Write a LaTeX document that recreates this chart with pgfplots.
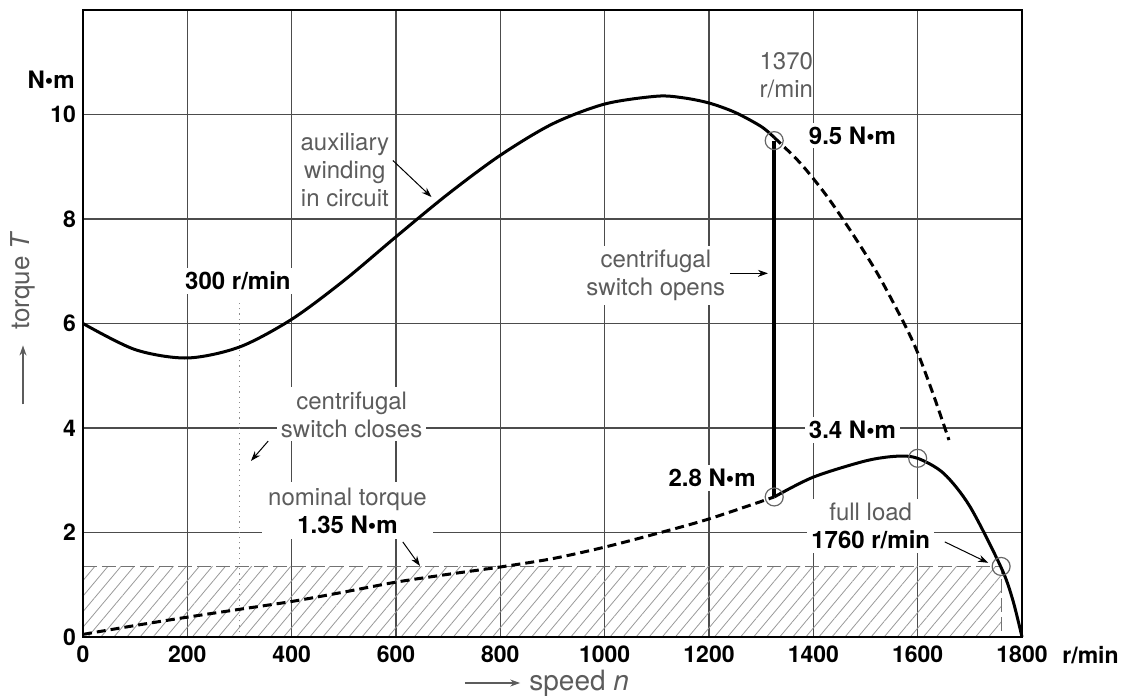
\documentclass[border=0pt]{standalone}
\usepackage{fontspec}
\setmainfont{TeX Gyre Heros}
\usepackage{pgfplots}
\pgfplotsset{compat=1.18}
\usetikzlibrary{patterns.meta,arrows.meta}
\definecolor{lbl}{gray}{0.36}
\begin{document}
\begin{tikzpicture}[
  lab/.style={font=\fontsize{12}{14}\selectfont, text=lbl, align=center},
  bl/.style={font=\fontsize{12}{14}\selectfont\bfseries},
  arr/.style={-{Stealth[length=5pt,width=3.5pt]}, line width=0.5pt},
]
\useasboundingbox (-41.5pt,-29pt) rectangle (522.5pt,318.5pt);
\begin{axis}[
  scale only axis, width=469.5pt, height=313.5pt,
  xmin=0, xmax=1800, ymin=0, ymax=12,
  xtick={0,200,...,1800}, ytick={0,2,...,10},
  grid=major, grid style={black!70, line width=0.55pt},
  axis line style={black, line width=0.6pt},
  major tick length=0pt,
  /pgf/number format/assume math mode=true,
  /pgf/number format/1000 sep={},
  ticklabel style={font=\fontsize{11.5}{13}\selectfont\bfseries},
  xticklabel style={yshift=-1pt},
  clip=false,
]
% hatched region: nominal torque up to full load
\addplot[draw=none, pattern={Lines[angle=50,distance=5pt,line width=0.4pt]}, pattern color=black!40]
  coordinates {(0,1.35) (1760,1.35)} \closedcycle;
\addplot[black!55, line width=0.6pt, dash pattern=on 7pt off 2.5pt]
  coordinates {(0,1.35) (1760,1.35) (1760,0)};
% 300 r/min marker
\addplot[black!45, dotted, line width=0.6pt] coordinates {(300,0) (300,6.4)};

% thicker left and bottom axis
\draw[line width=1.3pt] (axis cs:0,12) -- (axis cs:0,0) -- (axis cs:1800,0);

% with auxiliary winding
\addplot[black, line width=1.5pt, smooth] coordinates {
  (0,6.0) (100,5.5) (200,5.34) (300,5.55) (400,6.08) (500,6.82) (600,7.66)
  (700,8.48) (800,9.22) (900,9.82) (1000,10.2) (1100,10.35) (1150,10.32)
  (1200,10.22) (1250,10.04) (1300,9.77) (1325,9.56)};
\addplot[black, line width=1.5pt, smooth, dash pattern=on 4.5pt off 2.5pt] coordinates {
  (1325,9.56) (1375,9.07) (1425,8.45) (1475,7.72) (1525,6.92) (1575,5.98)
  (1600,5.44) (1630,4.64) (1660,3.77)};
% switch opens
\addplot[black, line width=2pt] coordinates {(1325,9.5) (1325,2.68)};
% main winding only
\addplot[black, line width=1.5pt, smooth, dash pattern=on 4.5pt off 2.5pt] coordinates {
  (0,0.05) (100,0.22) (200,0.38) (300,0.53) (400,0.68) (500,0.86) (600,1.05)
  (700,1.2) (800,1.34) (900,1.5) (1000,1.72) (1100,1.98) (1200,2.26) (1325,2.68)};
\addplot[black, line width=1.5pt, smooth] coordinates {
  (1325,2.68) (1400,3.06) (1500,3.37) (1560,3.46) (1600,3.42) (1650,3.13)
  (1700,2.5) (1760,1.33) (1782,0.72) (1800,0)};
\addplot[only marks, mark=o, mark size=4.5pt, black!60, mark options={line width=0.6pt}]
  coordinates {(1325,9.5) (1325,2.68) (1600,3.42) (1760,1.35)};

% annotations
\node[bl, anchor=east, inner sep=0pt] at ([xshift=-4pt]axis cs:0,10.67) {N•m};
\node[lab] at (axis cs:502,8.93) {auxiliary\\winding\\in circuit};
\draw[arr] (axis cs:594,9.12) -- (axis cs:668,8.42);
\node[bl, fill=white, inner sep=2pt] at (axis cs:297,6.81) {300 r/min};
\node[lab, fill=white, inner sep=2pt] at (axis cs:515,4.26) {centrifugal\\switch closes};
\draw[arr] (axis cs:355,3.75) -- (axis cs:322,3.37);
\node[lab, fill=white, inner sep=3pt] at (axis cs:507,2.42) {nominal torque\\\textcolor{black}{\bfseries 1.35 N•m}};
\draw[arr] (axis cs:613,1.82) -- (axis cs:646,1.36);
\node[lab, fill=white, inner sep=2pt] at (axis cs:1098,6.92) {centrifugal\\switch opens};
\draw[arr] (axis cs:1240,6.96) -- (axis cs:1313,6.96);
\node[lab, align=right, anchor=east, inner sep=0pt] at (axis cs:1400,10.75) {1370\\r/min};
\node[bl, fill=white, inner sep=2pt] at (axis cs:1475,9.6) {9.5 N•m};
\node[bl, fill=white, inner sep=2pt] at (axis cs:1206,3.04) {2.8 N•m};
\node[bl, fill=white, inner sep=2pt] at (axis cs:1475,3.96) {3.4 N•m};
\node[lab, fill=white, inner sep=2pt] at (axis cs:1510,2.12) {full load\\\textcolor{black}{\bfseries 1760 r/min}};
\draw[arr] (axis cs:1652,1.82) -- (axis cs:1735,1.42);

% axis labels
\node[font=\fontsize{11.5}{13}\selectfont\bfseries, anchor=base west, inner sep=0pt]
  at ([xshift=20pt,yshift=-13pt]axis cs:1800,0) {r/min};
\draw[arr, lbl, line width=0.6pt] ([xshift=-30pt]axis cs:0,4.45) -- ([xshift=-30pt]axis cs:0,5.58);
\node[rotate=90, anchor=west, inner sep=0pt, text=lbl, font=\fontsize{13}{15}\selectfont]
  at ([xshift=-30pt]axis cs:0,5.87) {torque \textit{T}};
\draw[arr, lbl, line width=0.6pt] ([yshift=-23pt]axis cs:732,0) -- ([yshift=-23pt]axis cs:838,0);
\node[anchor=west, inner sep=0pt, text=lbl, font=\fontsize{14}{16}\selectfont]
  at ([yshift=-23pt]axis cs:855,0) {speed \textit{n}};
\end{axis}
\end{tikzpicture}
\end{document}
